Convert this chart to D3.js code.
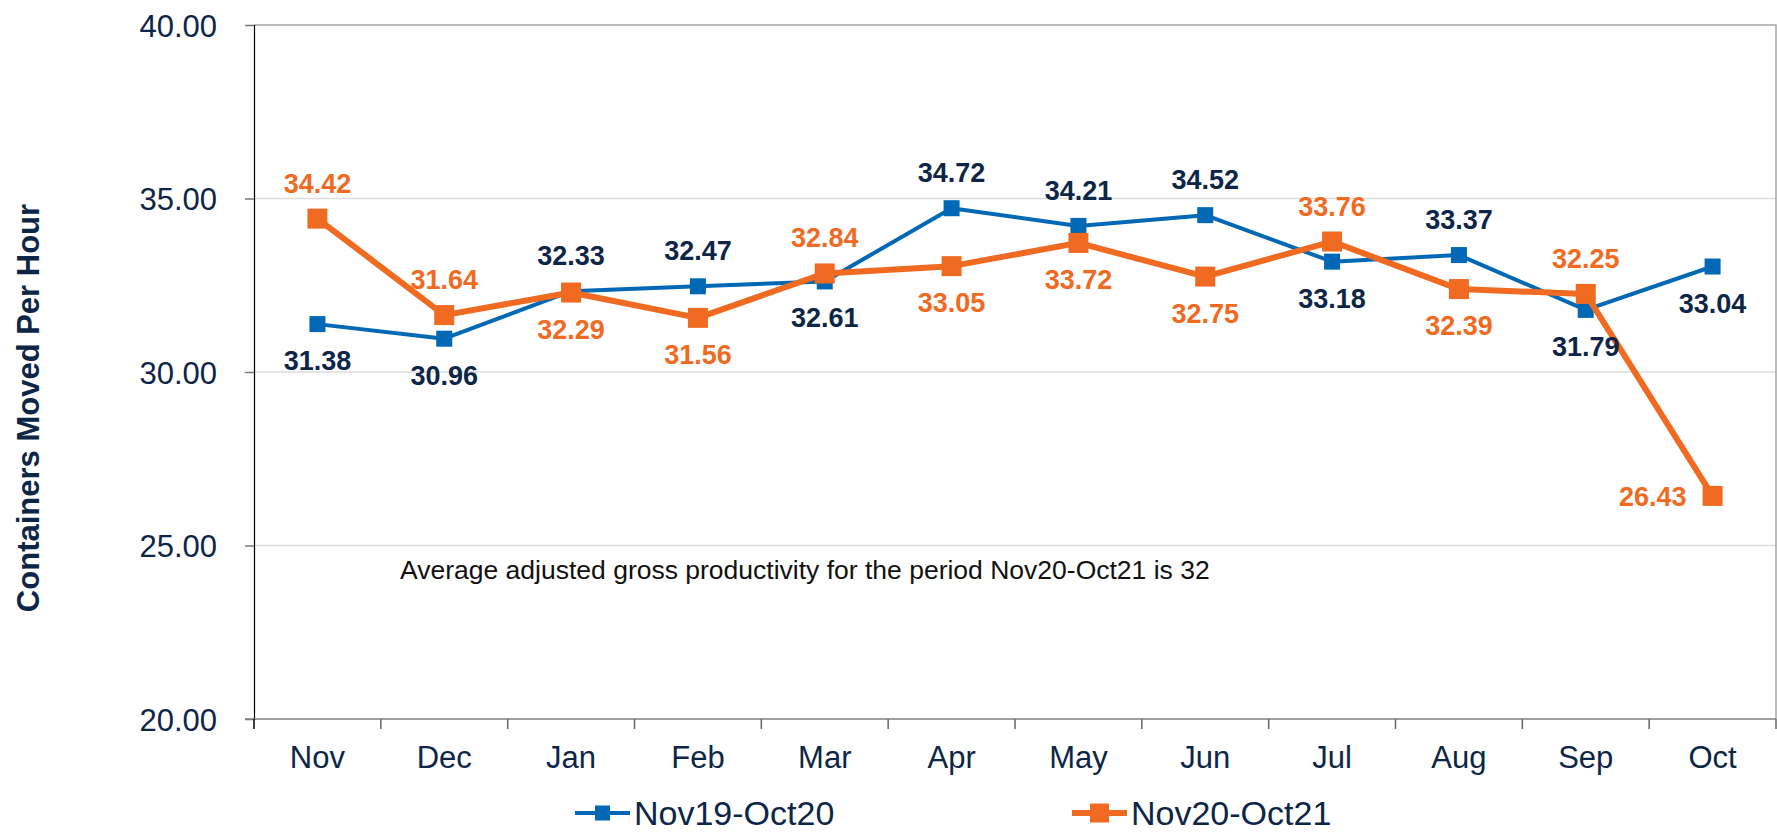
<!DOCTYPE html>
<html lang="en">
<head>
<meta charset="UTF-8">
<title>Containers Moved Per Hour</title>
<style>
  body { margin: 0; background: #fff; }
  text { font-family: "Liberation Sans", Arial, sans-serif; }
</style>
</head>
<body>
<script src="https://cdn.jsdelivr.net/npm/d3@7/dist/d3.min.js"></script>
<script>

const months = ['Nov', 'Dec', 'Jan', 'Feb', 'Mar', 'Apr', 'May', 'Jun', 'Jul', 'Aug', 'Sep', 'Oct'];
const prevYear = [31.38, 30.96, 32.33, 32.47, 32.61, 34.72, 34.21, 34.52, 33.18, 33.37, 31.79, 33.04];
const currYear = [34.42, 31.64, 32.29, 31.56, 32.84, 33.05, 33.72, 32.75, 33.76, 32.39, 32.25, 26.43];
const seriesNames = ['Nov19-Oct20', 'Nov20-Oct21'];
const yTicks = [20, 25, 30, 35, 40];
const note = 'Average adjusted gross productivity for the period Nov20-Oct21 is 32';

// where each data label sits relative to its marker
const prevPos = ['b', 'b', 'a', 'a', 'b', 'a', 'a', 'a', 'b', 'a', 'b', 'b'];
const currPos = ['a', 'a', 'b', 'b', 'a', 'b', 'b', 'b', 'a', 'b', 'a', 'l'];

const width = 1777, height = 832;
const plotLeft = 254, plotRight = 1776, plotTop = 25, plotBottom = 719;
const blue = '#0068b5', orange = '#f06a22', navy = '#0d2647';

let svg = d3.select('body')
    .append('svg')
    .attr('width', width)
    .attr('height', height);

let x = d3.scaleBand().domain(months).range([plotLeft, plotRight]);
let y = d3.scaleLinear().domain([20, 40]).range([plotBottom, plotTop]);

// gridlines
svg.selectAll('.grid')
    .data(yTicks.filter(d => d > 20 && d < 40))
    .enter()
    .append('line')
    .attr('x1', plotLeft).attr('x2', plotRight)
    .attr('y1', d => y(d)).attr('y2', d => y(d))
    .style('stroke', '#dcdcdc')
    .style('stroke-width', 1.5);

// plot border top + right
svg.append('path')
    .attr('d', `M${plotLeft},${y(40)}H${plotRight}V${plotBottom}`)
    .attr('fill', 'none')
    .style('stroke', '#a6a6a6')
    .style('stroke-width', 1.5);

// y axis
let yAxis = svg.append('g')
    .attr('transform', `translate(${plotLeft},0)`)
    .call(d3.axisLeft(y).tickValues(yTicks).tickFormat(d3.format('.2f')).tickSize(9).tickPadding(28));
yAxis.select('.domain').style('stroke', '#000').style('stroke-width', 1.2);
yAxis.selectAll('.tick line').style('stroke', '#777').style('stroke-width', 1.5);
yAxis.selectAll('.tick text')
    .style('font-size', '31px')
    .style('fill', navy)
    .attr('dy', '0.36em');

// x axis
let xAxis = svg.append('g')
    .attr('transform', `translate(0,${plotBottom})`)
    .call(d3.axisBottom(x).tickSize(0).tickPadding(27));
xAxis.select('.domain').style('stroke', '#808080').style('stroke-width', 1.5)
    .attr('d', `M${plotLeft - 9},0H${plotRight}`);
xAxis.selectAll('.tick text')
    .style('font-size', '31px')
    .style('fill', navy)
    .attr('dy', '0.71em');

// category boundary ticks
svg.selectAll('.xtick')
    .data(months.concat(['end']))
    .enter()
    .append('line')
    .attr('x1', (d, i) => plotLeft + i * x.step())
    .attr('x2', (d, i) => plotLeft + i * x.step())
    .attr('y1', plotBottom).attr('y2', plotBottom + 10)
    .style('stroke', (d, i) => i === 0 ? '#000' : '#666')
    .style('stroke-width', 1.5);

// y axis title
svg.append('text')
    .attr('transform', 'translate(39,408) rotate(-90)')
    .attr('text-anchor', 'middle')
    .style('font-size', '31px')
    .style('font-weight', 'bold')
    .style('fill', navy)
    .text('Containers Moved Per Hour');

// annotation
svg.append('text')
    .attr('x', 400).attr('y', 579)
    .style('font-size', '26.5px')
    .style('fill', '#111')
    .text(note);

const cx = d => x(d) + x.bandwidth() / 2;

function drawSeries(values, color, lineW, size, pos) {
    let data = months.map((m, i) => ({m: m, v: values[i], p: pos[i]}));
    let line = d3.line().x(d => cx(d.m)).y(d => y(d.v));
    svg.append('path')
        .datum(data)
        .attr('d', line)
        .attr('fill', 'none')
        .style('stroke', color)
        .style('stroke-width', lineW)
        .style('stroke-linejoin', 'round');
    svg.selectAll(null)
        .data(data)
        .enter()
        .append('rect')
        .attr('x', d => cx(d.m) - size / 2)
        .attr('y', d => y(d.v) - size / 2)
        .attr('width', size)
        .attr('height', size)
        .attr('fill', color);
    return data;
}

function drawLabels(data, color) {
    svg.selectAll(null)
        .data(data)
        .enter()
        .append('text')
        .attr('x', d => d.p === 'l' ? cx(d.m) - 26 : cx(d.m))
        .attr('y', d => d.p === 'a' ? y(d.v) - 26 : d.p === 'b' ? y(d.v) + 46 : y(d.v) + 10)
        .attr('text-anchor', d => d.p === 'l' ? 'end' : 'middle')
        .style('font-size', '27px')
        .style('font-weight', 'bold')
        .style('fill', color)
        .text(d => d.v.toFixed(2));
}

let prevData = drawSeries(prevYear, blue, 4, 16, prevPos);
let currData = drawSeries(currYear, orange, 6, 20, currPos);
drawLabels(prevData, navy);
drawLabels(currData, orange);

// legend
const legendX = [575, 1072];
const legendColors = [blue, orange];
const legendSizes = [[4, 15], [6, 19]];
seriesNames.forEach((name, i) => {
    let g = svg.append('g').attr('transform', `translate(${legendX[i]},813)`);
    g.append('line')
        .attr('x1', 0).attr('x2', 55)
        .attr('y1', 0).attr('y2', 0)
        .style('stroke', legendColors[i])
        .style('stroke-width', legendSizes[i][0]);
    g.append('rect')
        .attr('x', 27.5 - legendSizes[i][1] / 2)
        .attr('y', -legendSizes[i][1] / 2)
        .attr('width', legendSizes[i][1])
        .attr('height', legendSizes[i][1])
        .attr('fill', legendColors[i]);
    g.append('text')
        .attr('x', 59).attr('y', 12)
        .style('font-size', '34px')
        .style('fill', navy)
        .text(name);
});

</script>
</body>
</html>
